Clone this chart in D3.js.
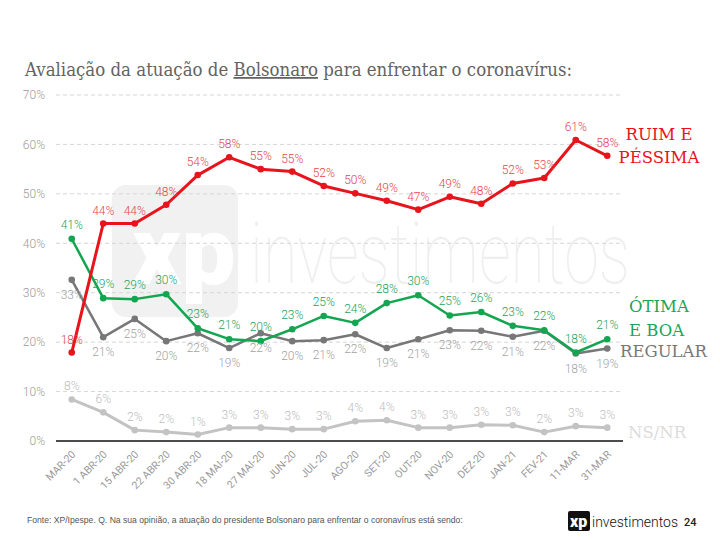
<!DOCTYPE html>
<html>
<head>
<meta charset="utf-8">
<script src="https://cdn.jsdelivr.net/npm/d3@7"></script>
<style>
  html, body { margin: 0; padding: 0; background: #fff; }
  svg { display: block; }
</style>
</head>
<body>
<svg id="chart" width="720" height="540"></svg>
<script>
// ---------- DATA ----------
const categories = ["MAR-20","1 ABR-20","15 ABR-20","22 ABR-20","30 ABR-20","18 MAI-20","27 MAI-20","JUN-20","JUL-20","AGO-20","SET-20","OUT-20","NOV-20","DEZ-20","JAN-21","FEV-21","11-MAR","31-MAR"];

const ruimPessima = [17.9, 44.0, 44.0, 47.8, 53.8, 57.4, 55.0, 54.5, 51.6, 50.1, 48.6, 46.8, 49.4, 48.0, 52.1, 53.2, 60.9, 57.7];
const ruimLabels  = ["18%","44%","44%","48%","54%","58%","55%","55%","52%","50%","49%","47%","49%","48%","52%","53%","61%","58%"];

const otimaBoa    = [40.9, 28.9, 28.7, 29.7, 22.8, 20.6, 20.2, 22.6, 25.3, 23.9, 27.9, 29.5, 25.4, 26.1, 23.3, 22.4, 17.9, 20.6];
const otimaLabels = ["41%","29%","29%","30%","23%","21%","20%","23%","25%","24%","28%","30%","25%","26%","23%","22%","18%","21%"];

const regular     = [32.6, 21.0, 24.7, 20.2, 21.8, 18.8, 21.8, 20.2, 20.4, 21.6, 18.8, 20.6, 22.4, 22.3, 21.1, 22.3, 17.7, 18.7];
const regularLabels = ["33%","21%","25%","20%","22%","19%","22%","20%","21%","22%","19%","21%","23%","22%","21%","22%","18%","19%"];

const nsnr        = [8.4, 5.8, 2.2, 1.8, 1.3, 2.7, 2.7, 2.4, 2.4, 4.0, 4.2, 2.7, 2.7, 3.3, 3.2, 1.8, 3.0, 2.7];
const nsnrLabels  = ["8%","6%","2%","2%","1%","3%","3%","3%","3%","4%","4%","3%","3%","3%","3%","2%","3%","3%"];

const yTicks = [0, 10, 20, 30, 40, 50, 60, 70];

// ---------- LAYOUT ----------
const svg = d3.select("#chart");
const x = d3.scalePoint().domain(categories).range([56, 623]).padding(0.5);
const y = d3.scaleLinear().domain([0, 70]).range([441, 95]);

// Watermark
const wm = svg.append("g");
wm.append("rect").attr("x", 112).attr("y", 185).attr("width", 126).attr("height", 132)
  .attr("rx", 14).attr("fill", "#f1f1f1");
wm.append("text").attr("x", 132).attr("y", 284).attr("font-family", "Roboto, sans-serif")
  .attr("font-weight", 900).attr("font-size", 96).attr("fill", "#ffffff").text("xp");
wm.append("text").attr("x", 250).attr("y", 283).attr("font-family", "Roboto, sans-serif")
  .attr("font-weight", 100).attr("font-size", 86).attr("fill", "#efefef")
  .attr("textLength", 380).attr("lengthAdjust", "spacingAndGlyphs").text("investimentos");

// Title
const title = svg.append("text").attr("x", 25).attr("y", 76)
  .attr("font-family", "'DejaVu Serif', serif").attr("font-size", 18).attr("fill", "#636363")
  .attr("textLength", 547).attr("lengthAdjust", "spacingAndGlyphs");
title.append("tspan").text("Avaliação da atuação de ");
title.append("tspan").attr("text-decoration", "underline").text("Bolsonaro");
title.append("tspan").text(" para enfrentar o coronavírus:");

// Gridlines
svg.append("g").selectAll("line").data(yTicks.filter(d => d > 0)).join("line")
  .attr("x1", 56).attr("x2", 623)
  .attr("y1", d => y(d)).attr("y2", d => y(d))
  .attr("stroke", "#d6d6d6").attr("stroke-width", 1).attr("stroke-dasharray", "4,3");

// Y axis labels
const yAxis = d3.axisLeft(y).tickValues(yTicks).tickFormat(d => d + "%").tickSize(0).tickPadding(0);
const yg = svg.append("g").attr("transform", "translate(45,0)").call(yAxis);
yg.select(".domain").remove();
yg.selectAll("text").attr("font-family", "Roboto, sans-serif").attr("font-weight", 300)
  .attr("font-size", 12).attr("fill", "#9a9a9a");

// X axis
const xAxis = d3.axisBottom(x).tickSize(0).tickPadding(0);
const xg = svg.append("g").attr("transform", "translate(0,441)").call(xAxis);
xg.select(".domain").attr("d", "M56,0H623").attr("stroke", "#111").attr("stroke-width", 1.5);
xg.selectAll(".tick text")
  .attr("font-family", "Roboto, sans-serif").attr("font-size", 10.5).attr("fill", "#9a9a9a")
  .attr("text-anchor", "end").attr("dy", null).attr("y", 0)
  .attr("transform", "translate(4,14) rotate(-45)");

// Series
const series = [
  { vals: nsnr,        labels: nsnrLabels,    line: "#c3c3c3", lab: "#bdbdbd", dy: -9,  w: 3 },
  { vals: regular,     labels: regularLabels, line: "#777777", lab: "#a3a3a3", dy: 19,  w: 2.5 },
  { vals: otimaBoa,    labels: otimaLabels,   line: "#13a650", lab: "#1da35a", dy: -10, w: 2.5 },
  { vals: ruimPessima, labels: ruimLabels,    line: "#e8131b", lab: "#e6454c", dy: -9,  w: 3 }
];

const lineGen = d3.line().x((d, i) => x(categories[i])).y(d => y(d));

series.forEach(s => {
  const g = svg.append("g");
  g.append("path").datum(s.vals).attr("d", lineGen)
    .attr("fill", "none").attr("stroke", s.line).attr("stroke-width", s.w)
    .attr("stroke-linejoin", "round");
  g.selectAll("circle").data(s.vals).join("circle")
    .attr("cx", (d, i) => x(categories[i])).attr("cy", d => y(d)).attr("r", 3.3)
    .attr("fill", s.line);
});
series.forEach(s => {
  svg.append("g").selectAll("text").data(s.vals).join("text")
    .attr("x", (d, i) => x(categories[i]))
    .attr("y", d => y(d) + s.dy)
    .attr("text-anchor", "middle")
    .attr("font-family", "Roboto, sans-serif").attr("font-weight", 300).attr("font-size", 12)
    .attr("fill", s.lab)
    .text((d, i) => s.labels[i]);
});

// Series names
const legFont = "'DejaVu Serif', serif";
const leg = (tx, ty, anchor, col, t) => svg.append("text").attr("x", tx).attr("y", ty)
  .attr("text-anchor", anchor).attr("font-family", legFont).attr("font-size", 16.5)
  .attr("fill", col).text(t);
leg(659, 140, "middle", "#e8131b", "RUIM E");
leg(659, 163, "middle", "#e8131b", "PÉSSIMA");
leg(629, 312, "start", "#1aa558", "ÓTIMA");
leg(629, 336, "start", "#1aa558", "E BOA");
leg(620, 357, "start", "#777777", "REGULAR");
leg(628, 438, "start", "#dcdcdc", "NS/NR");

// Footer
svg.append("text").attr("x", 27).attr("y", 523)
  .attr("font-family", "'Liberation Sans', Arial, sans-serif").attr("font-size", 8.6).attr("fill", "#555")
  .text("Fonte: XP/Ipespe. Q. Na sua opinião, a atuação do presidente Bolsonaro para enfrentar o coronavírus está sendo:");
svg.append("rect").attr("x", 568).attr("y", 511).attr("width", 22).attr("height", 20).attr("rx", 2).attr("fill", "#111");
svg.append("text").attr("x", 570).attr("y", 527).attr("font-family", "Roboto, sans-serif")
  .attr("font-weight", 900).attr("font-size", 16).attr("fill", "#fff").text("xp");
svg.append("text").attr("x", 592).attr("y", 527).attr("font-family", "Roboto, sans-serif")
  .attr("font-weight", 300).attr("font-size", 15).attr("fill", "#111")
  .attr("textLength", 86).attr("lengthAdjust", "spacingAndGlyphs").text("investimentos");
svg.append("text").attr("x", 684).attr("y", 526).attr("font-family", "Roboto, sans-serif")
  .attr("font-weight", 500).attr("font-size", 11).attr("fill", "#222").text("24");
</script>
</body>
</html>
